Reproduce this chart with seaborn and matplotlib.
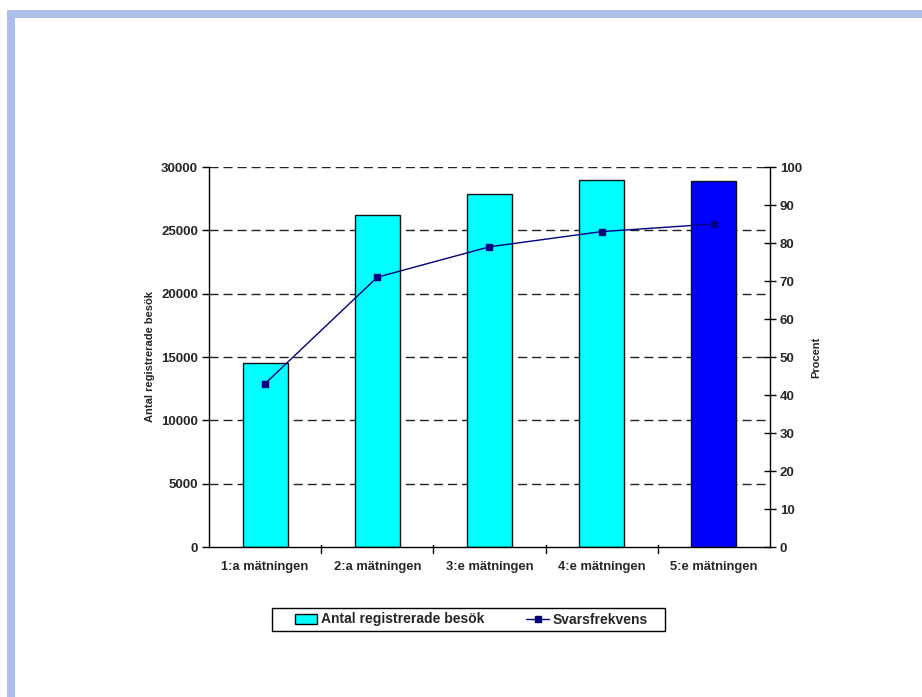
import matplotlib
matplotlib.use("Agg")
import matplotlib.pyplot as plt
import matplotlib.patches as mpatches
from matplotlib.lines import Line2D
import seaborn as sns
import pandas as pd

categories = ["1:a mätningen", "2:a mätningen", "3:e mätningen", "4:e mätningen", "5:e mätningen"]
visits = [14500, 26200, 27900, 29000, 28900]
response_pct = [43, 71, 79, 83, 85]
bar_colors = ["#00FFFF", "#00FFFF", "#00FFFF", "#00FFFF", "#0000FF"]
left_ticks = [0, 5000, 10000, 15000, 20000, 25000, 30000]
right_ticks = [0, 10, 20, 30, 40, 50, 60, 70, 80, 90, 100]

sns.set_style("white")
plt.rcParams["font.family"] = ["Liberation Sans", "DejaVu Sans"]
plt.rcParams["font.weight"] = "bold"

df = pd.DataFrame({"cat": categories, "visits": visits, "pct": response_pct})

W, H = 922, 697
fig = plt.figure(figsize=(9.22, 6.97), dpi=100)
# decorative frame (top and left band)
frame_col = "#AFBFEB"
fig.patches.append(mpatches.Rectangle((7/W, 1-17.7/H), 1.0, 8/H, transform=fig.transFigure,
                                      facecolor=frame_col, edgecolor="none", zorder=0))
fig.patches.append(mpatches.Rectangle((7/W, -0.01), 8/W, 1-9.7/H+0.01, transform=fig.transFigure,
                                      facecolor=frame_col, edgecolor="none", zorder=0))

ax = fig.add_axes([209/W, 1-547/H, 561/W, 380/H])
sns.barplot(data=df, x="cat", y="visits", hue="cat", palette=bar_colors, legend=False,
            width=0.4, edgecolor="#111111", linewidth=1, saturation=1, ax=ax, zorder=2)
ax.set_ylim(0, 30000)
ax.set_xlim(-0.5, 4.5)
ax.set_yticks(left_ticks)
ax.set_yticklabels([str(t) for t in left_ticks], fontsize=9.5, fontweight="bold")
ax.set_xticks(range(len(categories)))
ax.set_xticklabels(categories, fontsize=9.3, fontweight="bold")
ax.tick_params(axis="x", length=0, pad=10)
ax.tick_params(axis="y", direction="out", length=5, width=1, color="black", left=True, pad=3)
for b in [0.5, 1.5, 2.5, 3.5]:
    ax.plot([b, b], [0.004, -0.016], transform=ax.get_xaxis_transform(), color="black", lw=1, clip_on=False)
for v in left_ticks[1:]:
    ax.axhline(v, color="#222222", lw=1, ls=(0, (6.5, 3.6)), zorder=1)
ax.set_xlabel("")
ax.set_ylabel("Antal registrerade besök", fontsize=8, fontweight="bold", labelpad=4)
for s in ["top", "right"]:
    ax.spines[s].set_visible(False)
for s in ["left", "bottom"]:
    ax.spines[s].set_color("black")
    ax.spines[s].set_linewidth(1)

ax2 = ax.twinx()
ax2.plot(range(len(categories)), response_pct, color="#000080", lw=1, marker="s", markersize=5,
         markerfacecolor="#000080", markeredgecolor="#000080", zorder=5)
ax2.set_ylim(0, 100)
ax2.set_yticks(right_ticks)
ax2.set_yticklabels([str(t) for t in right_ticks], fontsize=9.5, fontweight="bold")
ax2.tick_params(axis="y", direction="inout", length=8, width=1, color="black", right=True, pad=3)
ax2.set_ylabel("Procent", fontsize=8, fontweight="bold", labelpad=7)
for s in ["top", "left", "bottom"]:
    ax2.spines[s].set_visible(False)
ax2.spines["right"].set_color("black")
ax2.spines["right"].set_linewidth(1)

# legend frame
fig.patches.append(mpatches.Rectangle((272/W, 1-631/H), (665-272)/W, 23/H, transform=fig.transFigure,
                                      facecolor="white", edgecolor="black", lw=1, zorder=1))
handles = [mpatches.Patch(facecolor="#00FFFF", edgecolor="black", label="Antal registrerade besök"),
           Line2D([0], [0], color="#000080", lw=1, marker="s", markersize=5, label="Svarsfrekvens")]
leg = fig.legend(handles=handles, loc="center left", bbox_to_anchor=(295/W, 1-619.5/H), ncol=2,
                 frameon=False, prop={"size": 10, "weight": "bold"}, columnspacing=3.0,
                 handlelength=1.6, handleheight=0.7, handletextpad=0.3, borderpad=0, borderaxespad=0)

fig.savefig("out.png", dpi=100)
